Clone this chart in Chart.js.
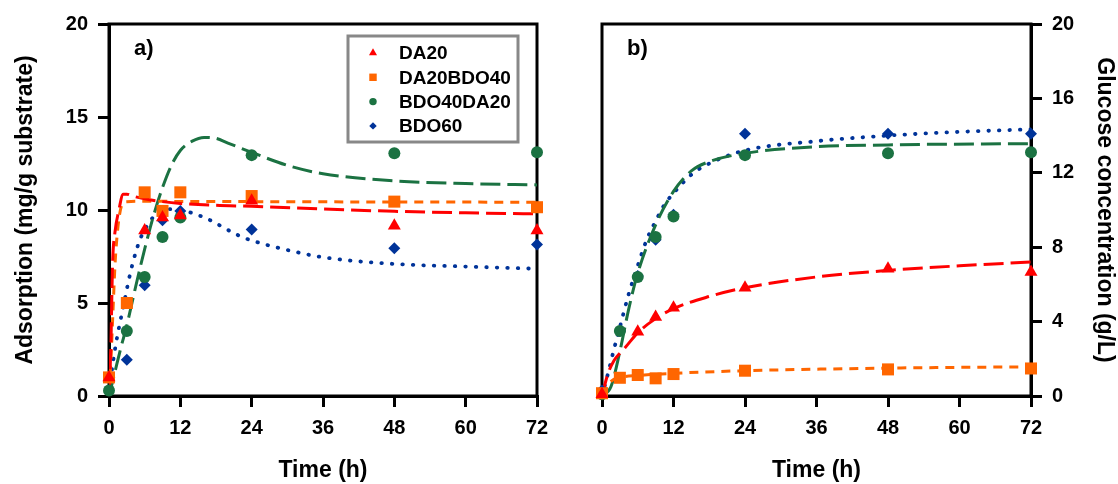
<!DOCTYPE html>
<html>
<head>
<meta charset="utf-8">
<script src="https://cdn.jsdelivr.net/npm/chart.js@4.4.1/dist/chart.umd.min.js"></script>
<style>
  html, body { margin: 0; padding: 0; background: #fff; }
  #wrap { position: relative; width: 1118px; height: 484px; }
  .panel { position: absolute; top: 0; height: 484px; }
  #panelA { left: 0; width: 560px; }
  #panelB { left: 560px; width: 558px; }
</style>
</head>
<body>
<div id="wrap">
  <div class="panel" id="panelA"><canvas id="chartA" width="560" height="484"></canvas></div>
  <div class="panel" id="panelB"><canvas id="chartB" width="558" height="484"></canvas></div>
</div>
<script>
// Tiempos de muestreo (h)
const tiempos = [0, 3, 6, 9, 12, 24, 48, 72];
const etiquetas = ['DA20', 'DA20BDO40', 'BDO40DA20', 'BDO60'];
const ticksX = [0, 12, 24, 36, 48, 60, 72];

// a) Adsorción (mg/g sustrato) - puntos experimentales
const adsDA20 = [1.0, null, 8.9, 9.6, 9.7, 10.5, 9.15, 8.9];
const adsDA20BDO40 = [1.0, 5.0, 10.95, 9.95, 10.95, 10.75, 10.45, 10.15];
const adsBDO40DA20 = [0.3, 3.5, 6.4, 8.55, 9.6, 12.95, 13.05, 13.1];
const adsBDO60 = [1.0, 1.95, 5.95, 9.45, 9.95, 8.95, 7.95, 8.15];

// a) curvas de ajuste
const tAjA_DA20 = [0, 0.3, 0.6, 1, 1.6, 2.4, 3, 4, 6, 9, 12, 18, 24, 36, 48, 60, 72];
const ajA_DA20 = [0, 2.5, 7.1, 8.8, 9.9, 10.85, 10.85, 10.75, 10.6, 10.45, 10.35, 10.25, 10.2, 10.05, 9.93, 9.85, 9.79];
const tAjA_DA20BDO40 = [0, 0.3, 0.7, 1, 1.3, 1.7, 2.2, 3, 6, 12, 24, 48, 72];
const ajA_DA20BDO40 = [0.3, 1.8, 4.8, 7.0, 8.4, 9.6, 10.3, 10.45, 10.47, 10.46, 10.45, 10.43, 10.42];
const tAjA_BDO40DA20 = [0, 1, 2, 3, 4.5, 6, 7.5, 9, 10.5, 12, 14, 16, 18, 20, 24, 30, 36, 48, 60, 72];
const ajA_BDO40DA20 = [0, 1.3, 2.6, 3.8, 5.9, 7.9, 9.7, 11.2, 12.4, 13.2, 13.7, 13.9, 13.85, 13.6, 13.1, 12.4, 11.95, 11.57, 11.42, 11.35];
const tAjA_BDO60 = [0, 1, 2.4, 3.8, 5.2, 6.6, 8, 9.7, 12, 16, 22, 24, 30, 36, 48, 60, 72];
const ajA_BDO60 = [0.3, 2.5, 4.8, 6.9, 8.4, 9.25, 9.8, 10.05, 10.0, 9.6, 8.6, 8.36, 7.85, 7.46, 7.1, 6.96, 6.84];

// b) Concentración de glucosa (g/L) - puntos experimentales
const gluDA20 = [0.1, null, 3.45, 4.25, 4.75, 5.82, 6.84, 6.66];
const gluDA20BDO40 = [0.15, 0.98, 1.13, 0.95, 1.18, 1.36, 1.43, 1.48];
const gluBDO40DA20 = [0.1, 3.5, 6.4, 8.55, 9.65, 12.95, 13.05, 13.1];
const gluBDO60 = [0.3, 3.5, 6.45, 8.4, 9.75, 14.1, 14.1, 14.1];

// b) curvas de ajuste
const tAjB_DA20 = [0, 1, 2, 3, 4, 6, 9, 12, 18, 24, 36, 48, 60, 72];
const ajB_DA20 = [0, 1.2, 1.9, 2.3, 2.65, 3.4, 4.16, 4.7, 5.35, 5.82, 6.4, 6.75, 7.0, 7.2];
const tAjB_DA20BDO40 = [0, 1, 2, 3, 6, 12, 24, 48, 72];
const ajB_DA20BDO40 = [0.05, 0.6, 0.9, 1.0, 1.1, 1.22, 1.36, 1.5, 1.57];
const tAjB_BDO40DA20 = [0, 1.5, 3, 4.5, 6, 9, 12, 15, 18, 24, 36, 48, 72];
const ajB_BDO40DA20 = [0, 0.5, 2.4, 4.7, 6.6, 9.2, 11.0, 12.1, 12.6, 13.05, 13.4, 13.5, 13.57];
const tAjB_BDO60 = [0, 1, 2, 3, 4.5, 6, 7.5, 9, 10.5, 12, 15, 18, 24, 36, 48, 60, 72];
const ajB_BDO60 = [0, 1.2, 2.5, 3.7, 5.5, 7.0, 8.4, 9.4, 10.3, 10.9, 11.9, 12.5, 13.2, 13.7, 14.0, 14.2, 14.34];

const colores = ['#FF0000', '#FF6600', '#1B7242', '#003399'];
const estilos = ['triangle', 'rect', 'circle', 'rectRot'];
const radios = [7.5, 8.5, 6, 6];
const guiones = [[20, 7], [9, 7], [20, 7], [0.5, 10]];
const fuente = '"Liberation Sans", Arial, sans-serif';

function puntos(xs, ys) {
    return xs.map((x, i) => ({ x: x, y: ys[i] }));
}

function crearDatasets(series, ajustes) {
    const ds = [];
    ajustes.forEach((aj, i) => {
        ds.push({
            label: etiquetas[i] + ' ajuste',
            data: puntos(aj[0], aj[1]),
            showLine: true,
            borderColor: colores[i],
            borderWidth: i === 3 ? 3.8 : 3,
            borderDash: guiones[i],
            borderCapStyle: i === 3 ? 'round' : 'butt',
            cubicInterpolationMode: 'monotone',
            pointRadius: 0,
            fill: false,
            order: 2
        });
    });
    series.forEach((s, i) => {
        ds.push({
            label: etiquetas[i],
            data: puntos(tiempos, s),
            showLine: false,
            pointStyle: estilos[i],
            pointRadius: radios[i],
            pointBackgroundColor: colores[i],
            pointBorderWidth: 0,
            clip: false,
            order: 1
        });
    });
    return ds;
}

// Marco negro completo alrededor del área de datos
const marcoPlugin = {
    id: 'marco',
    beforeDatasetsDraw(chart) {
        const { ctx, chartArea: a } = chart;
        ctx.save();
        ctx.strokeStyle = '#000';
        ctx.lineWidth = 3;
        ctx.strokeRect(a.left, a.top, a.right - a.left, a.bottom - a.top);
        ctx.restore();
    }
};

// Etiqueta a) / b)
const panelPlugin = {
    id: 'panel',
    afterDraw(chart, args, opts) {
        const { ctx, chartArea: a } = chart;
        ctx.save();
        ctx.fillStyle = '#000';
        ctx.font = 'bold 22px ' + fuente;
        ctx.textBaseline = 'middle';
        ctx.fillText(opts.texto, a.left + 25, a.top + 25);
        ctx.restore();
    }
};

// Leyenda con recuadro gris (solo panel a)
const leyendaPlugin = {
    id: 'leyenda',
    afterDraw(chart, args, opts) {
        if (!opts.mostrar) return;
        const { ctx, chartArea: a } = chart;
        const x0 = a.left + 239, y0 = a.top + 12;
        ctx.save();
        ctx.fillStyle = '#fff';
        ctx.fillRect(x0, y0, 170, 106);
        ctx.strokeStyle = '#888';
        ctx.lineWidth = 3;
        ctx.strokeRect(x0, y0, 170, 106);
        etiquetas.forEach((et, i) => {
            const y = y0 + 17 + i * 24.3;
            ctx.fillStyle = colores[i];
            Chart.helpers.drawPoint(ctx, { pointStyle: estilos[i], radius: radios[i] * 0.62, rotation: 0, borderWidth: 0 }, x0 + 25, y);
            ctx.fillStyle = '#000';
            ctx.font = 'bold 19px ' + fuente;
            ctx.textBaseline = 'middle';
            ctx.fillText(et, x0 + 51, y + 1);
        });
        ctx.restore();
    }
};

function crearGrafico(id, cfg) {
    const ctx = document.getElementById(id).getContext('2d');
    return new Chart(ctx, {
        type: 'scatter',
        data: { datasets: crearDatasets(cfg.series, cfg.ajustes) },
        options: {
            responsive: false,
            animation: false,
            layout: { padding: cfg.padding },
            plugins: {
                legend: { display: false },
                tooltip: { enabled: false },
                panel: { texto: cfg.panel },
                leyenda: { mostrar: cfg.leyenda }
            },
            scales: {
                x: {
                    type: 'linear',
                    min: 0,
                    max: 72,
                    afterBuildTicks: s => { s.ticks = ticksX.map(v => ({ value: v })); },
                    ticks: { color: '#000', font: { family: fuente, size: 20, weight: 'bold' }, padding: 9, maxRotation: 0 },
                    grid: { drawOnChartArea: false, drawTicks: true, tickLength: 11, color: '#000', lineWidth: 3 },
                    border: { display: true, color: '#000', width: 3 },
                    title: { display: true, text: 'Time (h)', color: '#000', font: { family: fuente, size: 23, weight: 'bold' }, padding: { top: 0, bottom: 0 } },
                    afterFit: s => { s.height = 88; }
                },
                y: {
                    type: 'linear',
                    position: cfg.posY,
                    min: 0,
                    max: 20,
                    ticks: { stepSize: cfg.pasoY, color: '#000', font: { family: fuente, size: 20, weight: 'bold' }, padding: 10 },
                    grid: { drawOnChartArea: false, drawTicks: true, tickLength: 11, color: '#000', lineWidth: 3 },
                    border: { display: true, color: '#000', width: 3 },
                    title: { display: true, text: cfg.tituloY, color: '#000', font: { family: fuente, size: 23, weight: 'bold' }, padding: { top: cfg.padTitulo, bottom: 0 } },
                    afterFit: s => { s.width = cfg.anchoY; }
                }
            }
        },
        plugins: [marcoPlugin, panelPlugin, leyendaPlugin]
    });
}

crearGrafico('chartA', {
    series: [adsDA20, adsDA20BDO40, adsBDO40DA20, adsBDO60],
    ajustes: [[tAjA_DA20, ajA_DA20], [tAjA_DA20BDO40, ajA_DA20BDO40], [tAjA_BDO40DA20, ajA_BDO40DA20], [tAjA_BDO60, ajA_BDO60]],
    padding: { left: 0, right: 23, top: 24, bottom: 0 },
    posY: 'left',
    pasoY: 5,
    tituloY: 'Adsorption (mg/g substrate)',
    padTitulo: 12,
    anchoY: 109,
    panel: 'a)',
    leyenda: true
});

crearGrafico('chartB', {
    series: [gluDA20, gluDA20BDO40, gluBDO40DA20, gluBDO60],
    ajustes: [[tAjB_DA20, ajB_DA20], [tAjB_DA20BDO40, ajB_DA20BDO40], [tAjB_BDO40DA20, ajB_BDO40DA20], [tAjB_BDO60, ajB_BDO60]],
    padding: { left: 42, right: 0, top: 24, bottom: 0 },
    posY: 'right',
    pasoY: 4,
    tituloY: 'Glucose concentration (g/L)',
    padTitulo: 0,
    anchoY: 87,
    panel: 'b)',
    leyenda: false
});
</script>
</body>
</html>
